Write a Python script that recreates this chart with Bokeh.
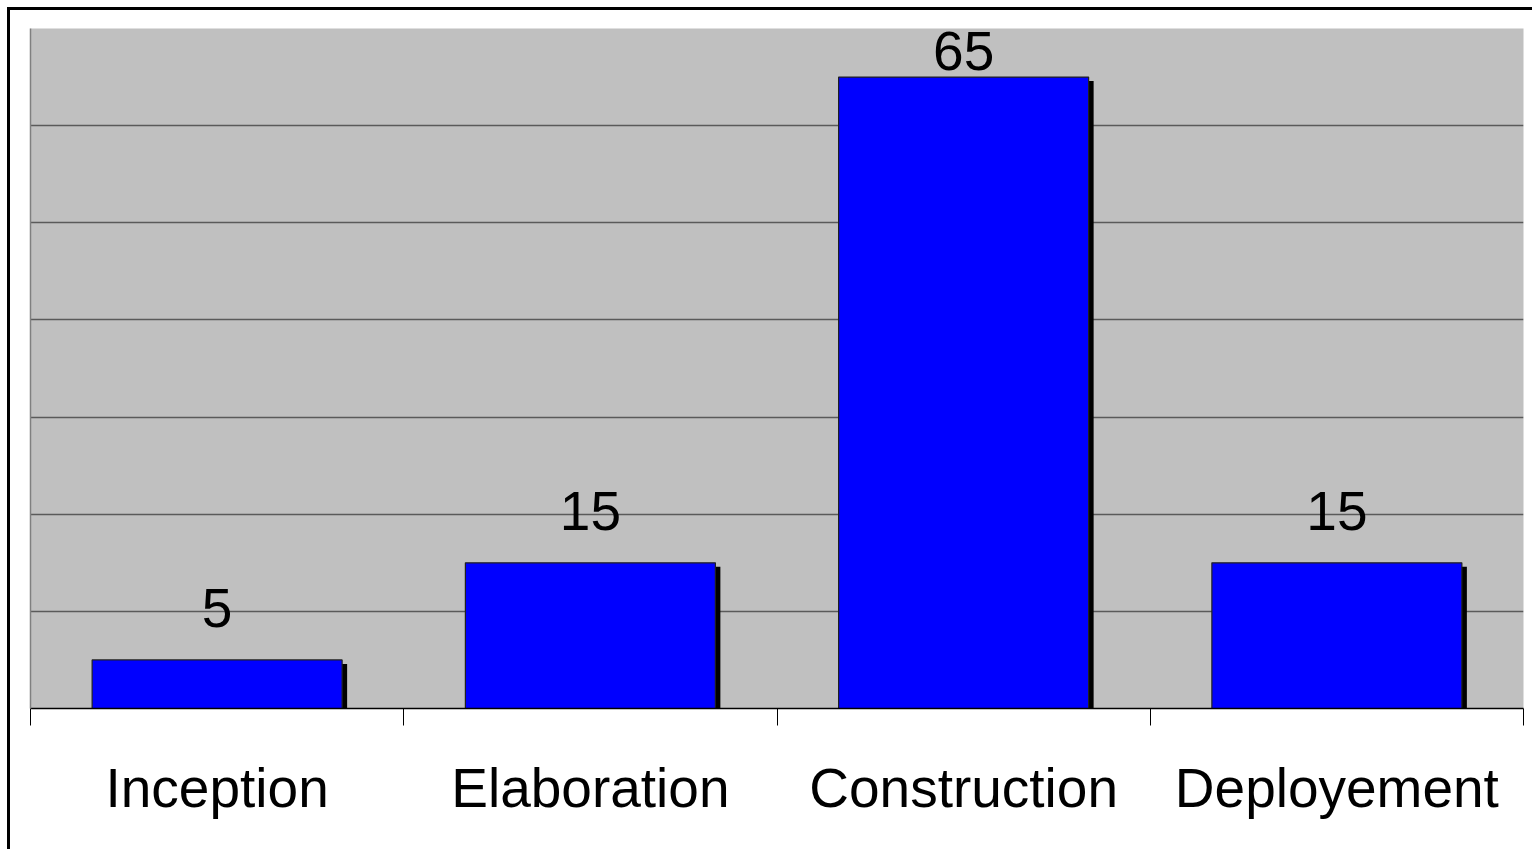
from bokeh.plotting import figure
from bokeh.models import Range1d, FixedTicker, ColumnDataSource
from bokeh.core.properties import value
from bokeh.embed import file_html
from bokeh.resources import INLINE

categories = ["Inception", "Elaboration", "Construction", "Deployement"]
values = [5, 15, 65, 15]
y_ticks = [10, 20, 30, 40, 50, 60, 70]
y_max = 70

FONT = "Liberation Sans"
n = len(categories)
centers = [i + 0.5 for i in range(n)]
boundaries = [float(i) for i in range(n + 1)]

W, H = 1525, 842
p = figure(width=W, height=H, output_backend="svg", toolbar_location=None,
           x_range=Range1d(0, n), y_range=Range1d(0, y_max),
           min_border_left=20, min_border_right=12, min_border_top=18,
           min_border_bottom=144)
p.styles = {"margin-left": "7px", "margin-top": "7px",
            "border-left": "3px solid black", "border-top": "3px solid black"}

p.background_fill_color = "#C0C0C0"
p.border_fill_color = "white"
p.outline_line_color = None

# gridlines
p.xgrid.visible = False
p.ygrid.ticker = FixedTicker(ticks=y_ticks)
p.ygrid.grid_line_color = "#5A5A5A"
p.ygrid.grid_line_width = 1.5

# y axis: just a gray line on the left
p.yaxis.ticker = FixedTicker(ticks=[])
p.yaxis.axis_line_color = "#808080"
p.yaxis.axis_line_width = 1.5
p.yaxis.major_label_text_font_size = "0px"
p.yaxis.major_tick_line_color = None
p.yaxis.minor_tick_line_color = None

# x axis: ticks at category boundaries, labels at centres
p.xaxis.ticker = FixedTicker(ticks=centers, minor_ticks=boundaries)
p.xaxis.major_label_overrides = {c: lab for c, lab in zip(centers, categories)}
p.xaxis.major_tick_line_color = None
p.xaxis.major_tick_out = 0
p.xaxis.major_tick_in = 0
p.xaxis.minor_tick_out = 17
p.xaxis.minor_tick_in = 0
p.xaxis.minor_tick_line_color = "black"
p.xaxis.axis_line_color = "black"
p.xaxis.axis_line_width = 1.5
p.xaxis.major_label_text_font = FONT
p.xaxis.major_label_text_font_size = "55px"
p.xaxis.major_label_text_color = "black"
p.xaxis.major_label_standoff = 31

# bars with shadow
px_per_x = (1523 - 30) / n
px_per_y = (708 - 28) / y_max
dx = 5 / px_per_x
dy = 4 / px_per_y
bar_w = 250 / px_per_x

src = ColumnDataSource(dict(x=centers, top=values, cat=categories,
                            sx=[c + dx for c in centers],
                            stop=[v - dy for v in values],
                            lab=[str(v) for v in values],
                            off=[-26 if v > 60 else -52 for v in values]))
p.vbar(x="sx", top="stop", bottom=0, width=bar_w, source=src,
       fill_color="black", line_color=None)
p.vbar(x="x", top="top", bottom=0, width=bar_w, source=src,
       fill_color="#0000FF", line_color="#202020", line_width=1.2)

p.text(x="x", y="top", text="lab", source=src, y_offset="off",
       text_align="center", text_baseline="alphabetic",
       text_font=value(FONT), text_font_size="55px", text_color="black")

open("out.html", "w").write(file_html(p, INLINE))
